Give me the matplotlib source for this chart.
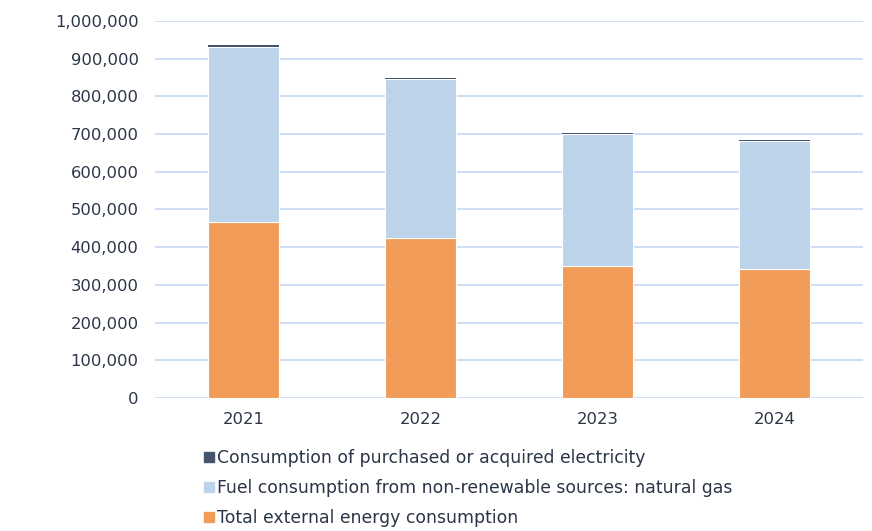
import matplotlib
matplotlib.use("Agg")
import matplotlib.pyplot as plt
from matplotlib.lines import Line2D
from matplotlib.ticker import FuncFormatter

years = ["2021", "2022", "2023", "2024"]
total_external = [467500, 425000, 351000, 341500]
natural_gas = [464000, 422000, 348000, 339000]
electricity = [3500, 3000, 3000, 2500]

labels = ["Consumption of purchased or acquired electricity",
          "Fuel consumption from non-renewable sources: natural gas",
          "Total external energy consumption"]
colors = ["#44546A", "#BDD3EA", "#F19C59"]
text_color = "#2B3547"

plt.rcParams['font.family'] = ['DejaVu Sans']

fig = plt.figure(figsize=(8.72, 5.31), dpi=100)
ax = fig.add_axes([0.178, 0.2505, 0.812, 0.71])

x = range(len(years))
w = 0.4
ax.bar(x, total_external, width=w, color=colors[2], edgecolor="white", linewidth=0.8, zorder=3)
gas_bottom = total_external
ax.bar(x, natural_gas, width=w, bottom=gas_bottom, color=colors[1], edgecolor="white", linewidth=0.8, zorder=3)
el_bottom = [a + b for a, b in zip(total_external, natural_gas)]
ax.bar(x, electricity, width=w, bottom=el_bottom, color=colors[0], linewidth=0, zorder=3)

ax.set_xlim(-0.5, len(years) - 0.5)
ax.set_ylim(0, 1000000)
ax.set_yticks(range(0, 1000001, 100000))
ax.yaxis.set_major_formatter(FuncFormatter(lambda v, p: f"{int(v):,}"))
ax.set_xticks(list(x))
ax.set_xticklabels(years)
ax.grid(axis="y", color="#C5D9F3", linewidth=1.2, zorder=0)
for s in ax.spines.values():
    s.set_visible(False)
ax.tick_params(axis="both", length=0, colors=text_color, labelsize=11.8)
ax.tick_params(axis="y", pad=12)
ax.tick_params(axis="x", pad=10)

handles = [Line2D([], [], marker="s", linestyle="none", markersize=7.5, color=c) for c in colors]
fig.legend(handles, labels, loc="upper left", bbox_to_anchor=(0.234, 0.155),
           frameon=False, fontsize=12.4, labelcolor=text_color, handlelength=0.6,
           handletextpad=0.15, labelspacing=0.72, borderpad=0, borderaxespad=0)

fig.savefig("out.png", dpi=100)
